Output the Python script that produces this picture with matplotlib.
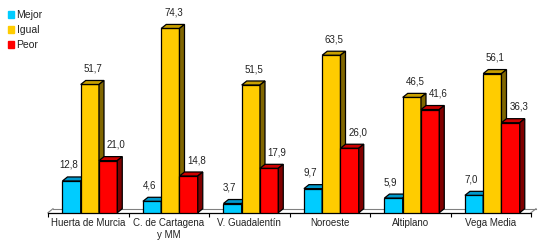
import numpy as np
import matplotlib.pyplot as plt
from matplotlib.patches import Polygon, Rectangle

plt.rcParams['font.family'] = ['Liberation Sans', 'DejaVu Sans']

comarcas = ["Huerta de Murcia", "C. de Cartagena\ny MM", "V. Guadalentín",
            "Noroeste", "Altiplano", "Vega Media"]
series = ["Mejor", "Igual", "Peor"]
mejor = [12.8, 4.6, 3.7, 9.7, 5.9, 7.0]
igual = [51.7, 74.3, 51.5, 63.5, 46.5, 56.1]
peor = [21.0, 14.8, 17.9, 26.0, 41.6, 36.3]

# front, top, side colours
colores = [("#00CCFF", "#0099CC", "#006680"),
           ("#FFCC00", "#C8A000", "#806600"),
           ("#FF0000", "#CC0000", "#800000")]
label_dx = [-3, 3, 8]  # px
texto = "#222222"

W, H = 538, 241
fig = plt.figure(figsize=(W / 100, H / 100), dpi=100)
ax = fig.add_axes([48 / W, 28.3 / H, 483 / W, 198.4 / H])
ax.set_xlim(-0.5, 5.5)
ax.set_ylim(0, 80)

# depth of the fake 3d in data units
px_x = 6 / 483
px_y = 80 / 198.4
dx, dy = 5 * px_x, 4 * px_y

ancho = 0.227
x = np.arange(len(comarcas))
for j, vals in enumerate([mejor, igual, peor]):
    front, top, side = colores[j]
    xc = x + 0.02 + (j - 1) * ancho
    ax.bar(xc, vals, ancho, color=front, edgecolor="black", linewidth=0.9,
           zorder=3 + j, label=series[j])
    for xi, v in zip(xc, vals):
        x0, x1 = xi - ancho / 2, xi + ancho / 2
        ax.add_patch(Polygon([(x0, v), (x0 + dx, v + dy), (x1 + dx, v + dy), (x1, v)],
                             closed=True, fc=top, ec="black", lw=0.9, zorder=3 + j,
                             clip_on=False))
        ax.add_patch(Polygon([(x1, 0), (x1 + dx, dy), (x1 + dx, v + dy), (x1, v)],
                             closed=True, fc=side, ec="black", lw=0.9, zorder=3 + j,
                             clip_on=False))
        ax.annotate(f"{v:.1f}".replace(".", ","), (xi, v), xytext=(label_dx[j] * 0.72, 11.5),
                    textcoords="offset points", ha="center", va="center",
                    fontsize=7, color=texto, zorder=10)

# floor
ax.plot([-0.5 + dx, 5.5 + dx], [dy, dy], color="#808080", lw=0.8, clip_on=False, zorder=1)
ax.plot([-0.5, -0.5 + dx], [0, dy], color="#808080", lw=0.8, clip_on=False, zorder=1)
ax.plot([5.5, 5.5 + dx], [0, dy], color="#808080", lw=0.8, clip_on=False, zorder=1)

for s in ["top", "right", "left"]:
    ax.spines[s].set_visible(False)
ax.spines["bottom"].set_linewidth(0.9)
ax.set_yticks([])
ax.set_xticks(np.arange(-0.5, 6, 1))
ax.set_xticklabels([])
ax.tick_params(axis="x", which="major", length=3, width=0.8)
ax.set_xticks(x, minor=True)
ax.set_xticklabels(comarcas, minor=True, fontsize=7, color=texto)
ax.tick_params(axis="x", which="minor", length=0, pad=4)

handles = [Rectangle((0, 0), 1, 1, color=c[0]) for c in colores]
fig.legend(handles, series, loc="upper left", bbox_to_anchor=(7.5 / W, 1 - 10 / H),
           frameon=False, fontsize=7.5, handlelength=0.62, handleheight=0.62,
           handletextpad=0.25, labelspacing=0.5, borderpad=0, borderaxespad=0,
           labelcolor=texto)

fig.savefig("out.png", dpi=100)
